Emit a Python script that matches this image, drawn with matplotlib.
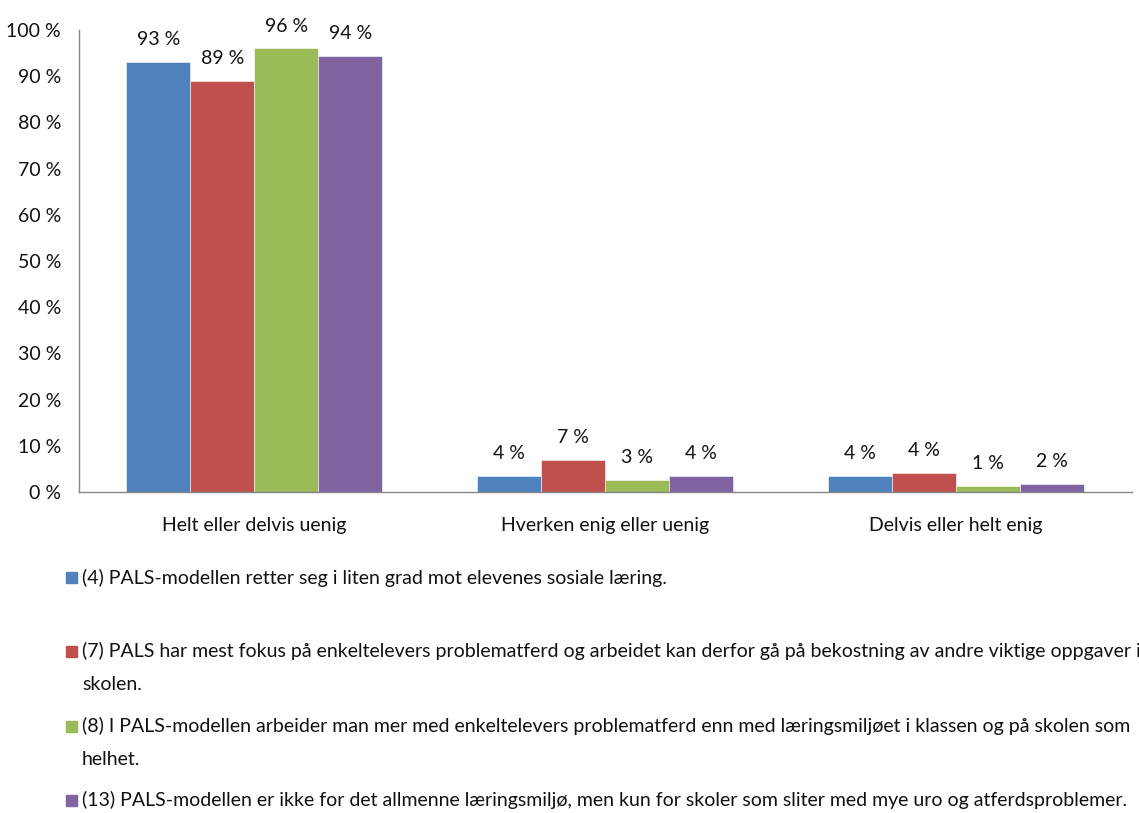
import matplotlib
matplotlib.use('Agg')
import matplotlib.pyplot as plt
from matplotlib.patches import Rectangle
import numpy as np

##########DATA##########
categories = ['Helt eller delvis uenig', 'Hverken enig eller uenig', 'Delvis eller helt enig']
v4 = [93.0, 3.5, 3.5]
v7 = [89.0, 6.9, 4.1]
v8 = [96.0, 2.6, 1.3]
v13 = [94.4, 3.5, 1.8]
yticks = [0, 10, 20, 30, 40, 50, 60, 70, 80, 90, 100]

legend_lines = [
    ['(4) PALS-modellen retter seg i liten grad mot elevenes sosiale læring.'],
    ['(7) PALS har mest fokus på enkeltelevers problematferd og arbeidet kan derfor gå på bekostning av andre viktige oppgaver i',
     'skolen.'],
    ['(8) I PALS-modellen arbeider man mer med enkeltelevers problematferd enn med læringsmiljøet i klassen og på skolen som',
     'helhet.'],
    ['(13) PALS-modellen er ikke for det allmenne læringsmiljø, men kun for skoler som sliter med mye uro og atferdsproblemer.'],
]

##########STYLE##########
colors = ['#4F81BD', '#C0504D', '#9BBB59', '#8064A2']
plt.rcParams['font.family'] = ['Lato', 'DejaVu Sans']
plt.rcParams['text.color'] = '#111111'
FS = 14
W, H = 1139, 813

##########PLOT##########
fig = plt.figure(figsize=(W / 100, H / 100), dpi=100)
ax = fig.add_axes([79 / W, 1 - 492 / H, (1131.5 - 79) / W, (492 - 30) / H])

x = np.arange(len(categories))
bw = 64 / 351
series = [v4, v7, v8, v13]
for i, vals in enumerate(series):
    bars = ax.bar(x + (i - 1.5) * bw, vals, bw, color=colors[i],
                  edgecolor='white', linewidth=0.4)
    for b, v in zip(bars, vals):
        ax.annotate(f'{round(v)} %', (b.get_x() + b.get_width() / 2, v),
                    xytext=(0, 10), textcoords='offset points',
                    ha='center', va='bottom', fontsize=FS)

ax.set_xlim(-0.5, 2.5)
ax.set_ylim(0, 100)
ax.set_yticks(yticks)
ax.set_yticklabels([f'{t} %' for t in yticks], fontsize=FS)
ax.set_xticks(x)
ax.set_xticklabels(categories, fontsize=FS)
ax.tick_params(axis='y', length=0, pad=13, labelcolor='#111111')
ax.tick_params(axis='x', length=0, pad=18, labelcolor='#111111')
for s in ['top', 'right']:
    ax.spines[s].set_visible(False)
for s in ['left', 'bottom']:
    ax.spines[s].set_color('#868686')
    ax.spines[s].set_linewidth(1)

##########LEGEND##########
entry_y = [577.5, 651, 726, 800]
for i, lines in enumerate(legend_lines):
    y0 = entry_y[i]
    fig.patches.append(Rectangle((66 / W, 1 - (y0 + 5.5) / H), 11 / W, 11 / H,
                                 transform=fig.transFigure, color=colors[i]))
    for j, line in enumerate(lines):
        fig.text(82 / W, 1 - (y0 + 33 * j) / H, line, fontsize=FS,
                 ha='left', va='center')

fig.savefig('out.png', dpi=100)
